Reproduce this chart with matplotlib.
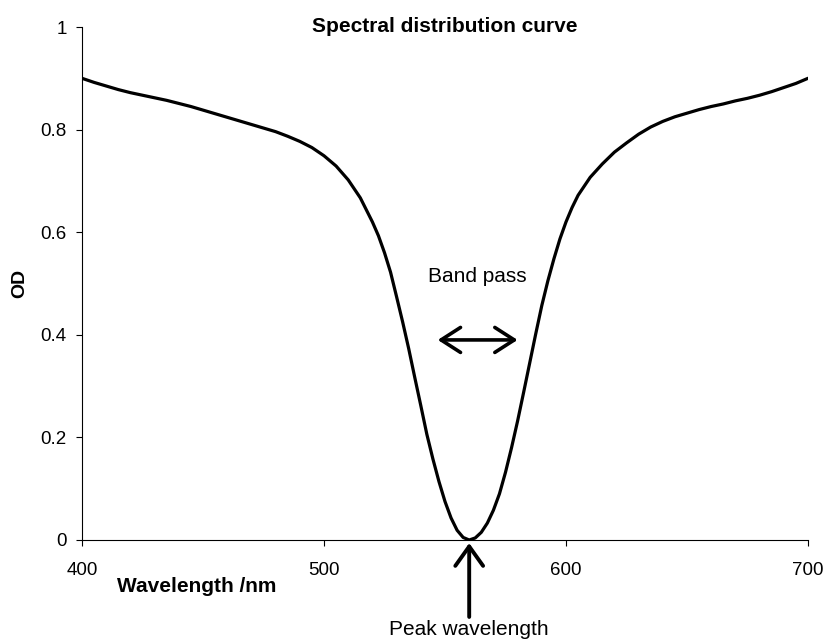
import matplotlib
matplotlib.use("Agg")
import matplotlib.pyplot as plt

plt.rcParams['font.family'] = ['Liberation Sans', 'DejaVu Sans']

# absorbance
wavelength = [400, 405, 410, 415, 420, 425, 430, 435, 440, 445, 450, 455, 460, 465,
              470, 475, 480, 485, 490, 495, 500, 505, 510, 515, 520, 522.5, 525,
              527.5, 530, 532.5, 535, 537.5, 540, 542.5, 545, 547.5, 550, 552.5,
              555, 557.5, 560, 562.5, 565, 567.5, 570, 572.5, 575, 577.5, 580,
              582.5, 585, 587.5, 590, 592.5, 595, 597.5, 600, 602.5, 605, 610, 615,
              620, 625, 630, 635, 640, 645, 650, 655, 660, 665, 670, 675, 680, 685,
              690, 695, 700]
od = [0.900, 0.892, 0.885, 0.878, 0.872, 0.867, 0.862, 0.857, 0.851, 0.845, 0.838,
      0.831, 0.824, 0.817, 0.810, 0.803, 0.796, 0.787, 0.777, 0.765, 0.749, 0.729,
      0.702, 0.667, 0.620, 0.593, 0.560, 0.522, 0.474, 0.425, 0.373, 0.317, 0.262,
      0.206, 0.158, 0.114, 0.075, 0.043, 0.019, 0.005, 0.000, 0.004, 0.015, 0.033,
      0.058, 0.090, 0.132, 0.180, 0.232, 0.288, 0.345, 0.402, 0.457, 0.505, 0.548,
      0.587, 0.620, 0.648, 0.672, 0.707, 0.733, 0.756, 0.774, 0.791, 0.805, 0.816,
      0.825, 0.832, 0.839, 0.845, 0.850, 0.856, 0.861, 0.867, 0.874, 0.882, 0.890,
      0.900]

x_ticks = [400, 500, 600, 700]
y_ticks = [0, 0.2, 0.4, 0.6, 0.8, 1]
y_tick_labels = ['0', '0.2', '0.4', '0.6', '0.8', '1']

peak_nm = 560
band_left, band_right, band_level = 547, 580, 0.39

fig = plt.figure(figsize=(8.24, 6.41), dpi=100)
ax = fig.add_axes([82 / 824, 1 - 540 / 641, 726 / 824, 513 / 641])

ax.plot(wavelength, od, color='black', lw=2.3, solid_capstyle='round',
        solid_joinstyle='round')

ax.set_xlim(400, 700)
ax.set_ylim(0, 1)
ax.set_xticks(x_ticks)
ax.set_yticks(y_ticks)
ax.set_yticklabels(y_tick_labels)
ax.tick_params(axis='both', direction='out', length=4, width=0.8, labelsize=13.5)
ax.tick_params(axis='x', pad=12)
ax.tick_params(axis='y', pad=7)
for side in ['top', 'right']:
    ax.spines[side].set_visible(False)
for side in ['left', 'bottom']:
    ax.spines[side].set_linewidth(0.8)

# band pass marker
ax.annotate('', xy=(band_left, band_level), xytext=(band_right, band_level),
            arrowprops=dict(arrowstyle='<->,head_length=1.4,head_width=0.9',
                            lw=2.6, color='black', mutation_scale=10,
                            shrinkA=0, shrinkB=0))
ax.text((band_left + band_right) / 2, 0.503, 'Band pass', ha='center',
        va='baseline', fontsize=15)

# peak wavelength pointer below the axis
ax.annotate('', xy=(peak_nm, -0.006), xytext=(peak_nm, -0.15),
            arrowprops=dict(arrowstyle='->,head_length=1.4,head_width=1.0',
                            lw=2.8, color='black', mutation_scale=10,
                            shrinkA=0, shrinkB=0),
            annotation_clip=False)
ax.text(peak_nm, -0.186, 'Peak wavelength', ha='center', va='baseline',
        fontsize=15, clip_on=False)

fig.text(445 / 824, 1 - 32 / 641, 'Spectral distribution curve', ha='center',
         va='baseline', fontsize=15, fontweight='bold')
fig.text(117 / 824, 1 - 592 / 641, 'Wavelength /nm', ha='left', va='baseline',
         fontsize=15, fontweight='bold')
fig.text(20 / 824, 1 - 283 / 641, 'OD', ha='center', va='center', rotation=90,
         fontsize=14, fontweight='bold')

fig.savefig('out.png', dpi=100)
